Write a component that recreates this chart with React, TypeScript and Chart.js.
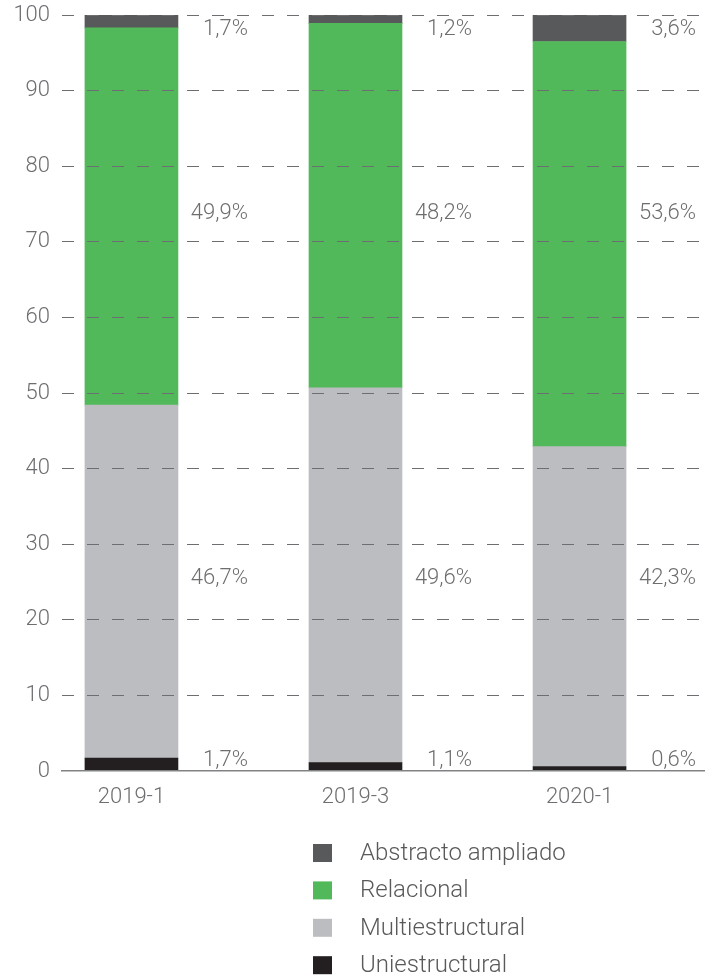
import React, { useEffect, useRef } from "react";
import { Chart, registerables } from "chart.js";

Chart.register(...registerables);

const categories = ["2019-1", "2019-3", "2020-1"];
const uniestructural = [1.7, 1.1, 0.6];
const multiestructural = [46.7, 49.6, 42.3];
const relacional = [49.9, 48.2, 53.6];
const abstracto = [1.7, 1.2, 3.6];
const yTicks = [0, 10, 20, 30, 40, 50, 60, 70, 80, 90, 100];

const FONT = "Roboto";
const TEXT = "#6d6e71";

const fmt = (v: number) => v.toFixed(1).replace(".", ",") + "%";

const labelPlugin = {
  id: "segLabels",
  afterDatasetsDraw(chart: any) {
    const { ctx, chartArea } = chart;
    ctx.save();
    ctx.font = `300 22px ${FONT}`;
    ctx.fillStyle = TEXT;
    ctx.textAlign = "right";
    ctx.textBaseline = "middle";
    chart.data.datasets.forEach((ds: any, di: number) => {
      const meta = chart.getDatasetMeta(di);
      const first = meta.data[0];
      // labels of one series share the row of the first column's segment
      let y = (first.y + first.base) / 2 - 3;
      y = Math.max(chartArea.top + 14, Math.min(chartArea.bottom - 11, y));
      meta.data.forEach((el: any, j: number) => {
        const v = ds.data[j].y;
        ctx.fillText(fmt(v), el.x + el.width / 2 + 70, y);
      });
    });
    ctx.restore();
  },
};

const legendPlugin = {
  id: "vLegend",
  afterDraw(chart: any) {
    const { ctx, chartArea } = chart;
    ctx.save();
    ctx.font = `300 24px ${FONT}`;
    ctx.textAlign = "left";
    ctx.textBaseline = "middle";
    const items = [...chart.data.datasets].reverse();
    items.forEach((ds: any, i: number) => {
      const cy = chartArea.bottom + 82 + i * 37.4;
      ctx.fillStyle = ds.backgroundColor;
      ctx.fillRect(313, cy - 9, 19, 18);
      ctx.fillStyle = "#58595b";
      ctx.fillText(ds.label, 360, cy + 1);
    });
    ctx.restore();
  },
};

export default function App() {
  const ref = useRef<HTMLCanvasElement>(null);
  useEffect(() => {
    document.body.style.margin = "0";
    const toXY = (arr: number[]) => arr.map((v, i) => ({ x: i, y: v }));
    const chart = new Chart(ref.current as HTMLCanvasElement, {
      type: "bar",
      data: {
        datasets: [
          { label: "Uniestructural", data: toXY(uniestructural), backgroundColor: "#231f20" },
          { label: "Multiestructural", data: toXY(multiestructural), backgroundColor: "#bcbdc0" },
          { label: "Relacional", data: toXY(relacional), backgroundColor: "#52b95b" },
          { label: "Abstracto ampliado", data: toXY(abstracto), backgroundColor: "#58595b" },
        ] as any,
      },
      options: {
        responsive: false,
        animation: false,
        layout: { padding: { top: 15, left: 0, right: 0, bottom: 0 } },
        datasets: { bar: { barThickness: 93 } } as any,
        plugins: { legend: { display: false }, tooltip: { enabled: false } },
        scales: {
          x: {
            type: "linear",
            bounds: "data",
            offset: false,
            stacked: true,
            min: -0.31,
            max: 2.56,
            grid: { display: false, drawTicks: false, offset: false },
            border: { display: true, color: "#808285", width: 1.5, z: 1 },
            afterBuildTicks: (axis: any) => {
              axis.ticks = categories.map((_, i) => ({ value: i }));
            },
            afterFit: (scale: any) => {
              scale.height = 205;
              scale.paddingLeft = 0;
              scale.paddingRight = 0;
            },
            ticks: {
              padding: 13,
              color: TEXT,
              font: { family: FONT, size: 22, weight: "300" as any },
              callback: (v: any) => categories[Math.round(Number(v))] ?? "",
            },
          },
          y: {
            stacked: true,
            min: 0,
            max: 100,
            afterBuildTicks: (axis: any) => {
              axis.ticks = yTicks.map((v) => ({ value: v }));
            },
            afterFit: (scale: any) => {
              scale.width = 62;
              scale.paddingTop = 0;
              scale.paddingBottom = 0;
            },
            border: { display: false, dash: [12, 13] },
            grid: {
              z: 1,
              drawTicks: false,
              color: (c: any) => (c.tick && c.tick.value === 0 ? "rgba(0,0,0,0)" : "#6d6e71"),
              lineWidth: 1,
            },
            ticks: {
              padding: 12,
              color: TEXT,
              font: { family: FONT, size: 22, weight: "300" as any },
            },
          },
        },
      } as any,
      plugins: [labelPlugin, legendPlugin],
    });
    return () => chart.destroy();
  }, []);
  return <canvas ref={ref} width={705} height={976} />;
}
